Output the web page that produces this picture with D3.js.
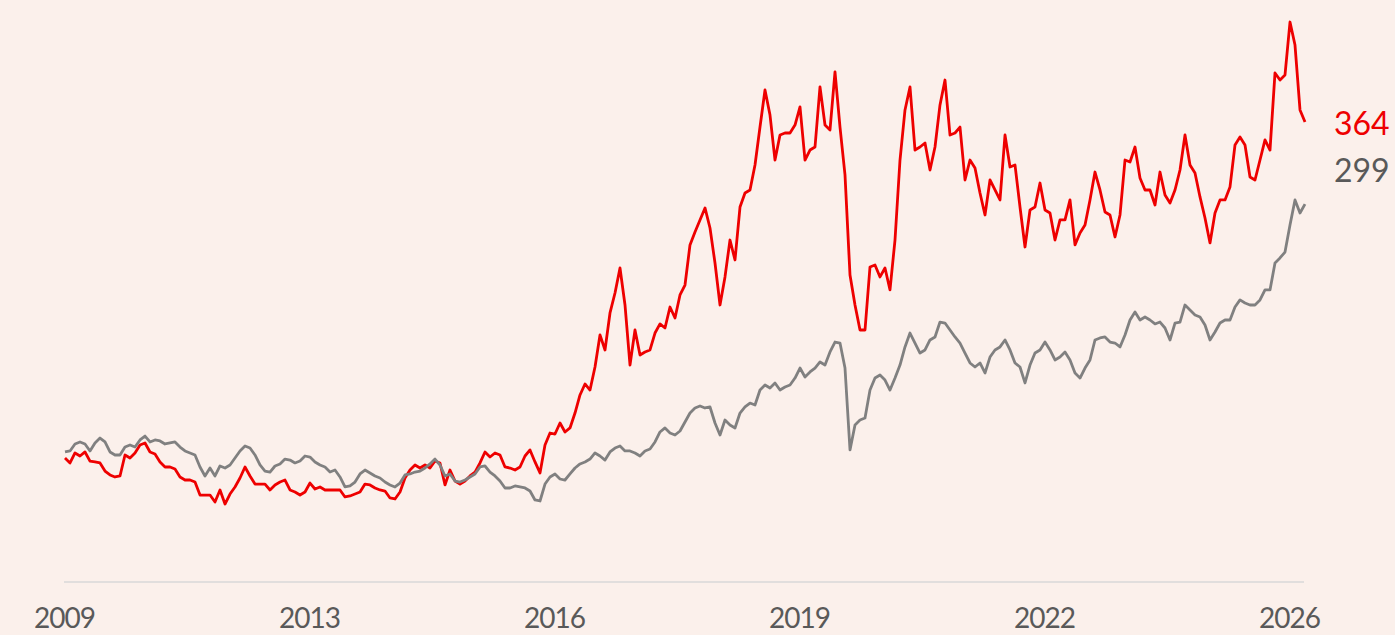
<!DOCTYPE html>
<html><head><meta charset="utf-8">
<script src="https://cdn.jsdelivr.net/npm/d3@7"></script>
<style>html,body{margin:0;padding:0;background:#FBF0EB;} svg{display:block}</style>
</head><body><svg id="chart" width="1395" height="635"></svg>
<script>
// Rebased index values (start = 100), sampled evenly along the category axis
const redValues = [
98.1,94.2,102.1,99.7,102.9,95.7,95.0,94.2,87.8,84.7,
83.1,83.9,100.5,98.1,102.1,108.4,110.0,102.9,101.3,95.0,
91.0,91.0,89.4,83.1,80.7,80.7,79.1,68.8,68.8,68.8,
63.3,72.8,61.7,69.6,75.2,82.3,91.0,83.9,77.5,77.5,
77.5,72.8,76.8,
79.1,80.7,72.8,71.2,68.8,71.2,78.3,
73.6,75.2,72.8,72.8,72.8,72.8,67.3,68.1,69.6,71.2,
77.5,76.8,74.4,72.8,72.0,66.5,65.7,71.2,82.3,88.6,
92.6,90.2,92.6,90.2,95.7,94.2,76.8,88.6,79.9,77.5,
79.9,83.9,87.0,94.2,102.9,
98.9,102.1,100.5,91.0,90.2,
88.6,91.0,99.7,104.5,95.0,86.3,108.4,117.9,117.1,125.8,
118.7,121.9,133.7,148.0,156.7,151.9,170.1,195.5,183.6,212.9,
228.7,248.5,219.2,171.7,199.4,179.6,182.0,183.6,197.0,204.2,
201.0,217.6,208.9,227.1,235.0,266.7,277.0,
286.5,296.0,280.1,
252.4,219.2,241.4,270.6,254.8,296.7,307.8,310.2,330.0,360.0,
389.3,369.5,333.9,353.7,355.3,355.3,361.6,375.9,333.9,341.8,
344.2,391.7,361.6,357.7,403.6,360.0,322.1,242.9,219.2,199.4,
199.4,249.3,250.8,241.4,248.5,231.1,270.6,333.9,
373.5,391.7,
341.8,344.2,347.4,326.0,344.2,377.5,397.2,353.7,355.3,360.0,
318.1,333.9,327.6,307.8,290.4,318.1,310.2,302.3,353.7,328.4,
330.0,296.7,265.1,294.4,296.7,315.7,294.4,292.0,270.6,286.5,
286.5,302.3,266.7,276.2,282.5,302.3,324.4,310.2,292.8,
290.4,
273.0,290.4,333.9,332.3,344.2,319.7,310.2,310.2,298.3,324.4,
306.2,299.9,310.2,326.0,353.7,330.0,323.6,304.7,288.0,268.3,
292.0,302.3,302.3,312.6,345.8,352.1,345.8,320.5,318.1,333.9,
349.8,341.8,402.8,397.2,401.2,443.1,424.9,373.5,364
];
const grayValues = [
102.9,103.7,109.2,110.8,109.2,103.7,110.0,113.9,110.8,102.9,
100.5,100.5,106.8,108.4,106.8,112.4,115.5,110.8,112.4,111.6,
109.2,110.0,110.8,106.8,103.7,102.1,100.5,91.0,83.9,90.2,
83.9,91.8,90.2,92.6,98.1,103.7,107.6,106.0,100.5,92.6,
87.8,87.0,91.8,
93.4,97.3,96.5,94.2,95.7,99.7,98.9,
95.0,92.6,91.0,87.0,88.6,83.1,75.2,76.0,79.1,85.5,
88.6,86.3,83.9,82.3,79.1,76.8,75.2,78.3,84.7,85.5,
87.0,87.8,90.2,93.4,97.3,92.6,83.9,85.5,79.9,79.1,
80.7,83.1,85.5,91.0,91.8,
87.0,83.9,79.9,74.4,74.4,
76.0,75.2,74.4,72.0,64.9,64.1,77.5,83.1,85.5,81.5,
80.7,85.5,90.2,93.4,95.0,97.3,102.1,99.7,96.5,102.9,
106.0,107.6,103.7,103.7,102.1,99.7,103.7,105.2,110.8,118.7,
121.9,117.9,116.3,119.5,126.6,133.7,137.7,
139.3,137.7,138.5,
125.8,116.3,128.2,124.2,121.9,133.7,138.5,141.6,140.1,151.9,
155.9,153.5,157.5,151.9,154.3,155.9,161.4,169.3,162.2,166.2,
169.3,174.1,171.7,182.0,189.9,189.1,169.3,104.5,124.2,128.2,
129.8,151.9,161.4,163.8,159.8,151.9,161.4,171.7,
186.0,197.0,
189.1,181.2,183.6,191.5,193.9,205.7,204.9,199.4,193.9,189.1,
181.2,173.3,170.1,173.3,165.4,178.0,183.6,186.0,191.5,183.6,
173.3,170.1,157.5,171.7,181.2,183.6,189.9,183.6,175.7,178.0,
182.0,175.7,165.4,161.4,169.3,175.7,191.5,193.1,193.9,
189.9,
189.1,186.0,195.5,207.3,213.7,207.3,209.7,207.3,204.2,205.7,
201.0,191.5,204.9,205.7,219.2,215.2,211.3,209.7,203.4,191.5,
197.8,204.9,207.3,207.3,217.6,223.2,220.8,219.2,219.2,223.2,
231.1,231.1,252.4,256.4,261.1,282.5,302.3,292.0,299
];
const tickLabels = ["2009","2013","2016","2019","2022","2026"];
const tickIndex = [0,49,98,147,196,245];
const redLast = "364";
const grayLast = "299";

const RED = "#EE0000", GRAY = "#808080", TEXT = "#595959";
const svg = d3.select("#chart");
const x = d3.scaleLinear().domain([0, redValues.length - 1]).range([65, 1305]);
const y = d3.scaleLinear().domain([0, 450]).range([582, 13.3]);

// baseline
svg.append("line")
  .attr("x1", x(0) - 1).attr("x2", x(redValues.length - 1) - 1)
  .attr("y1", y(0)).attr("y2", y(0))
  .attr("stroke", "#D9D9D9").attr("stroke-width", 1.5);

const line = d3.line().x((d, i) => x(i)).y(d => y(d));

svg.append("path").datum(redValues)
  .attr("d", line).attr("fill", "none")
  .attr("stroke", RED).attr("stroke-width", 2.8).attr("stroke-linejoin", "round");
svg.append("path").datum(grayValues)
  .attr("d", line).attr("fill", "none")
  .attr("stroke", GRAY).attr("stroke-width", 2.8).attr("stroke-linejoin", "round");

// x axis
const axis = d3.axisBottom(x).tickValues(tickIndex)
  .tickFormat((d, i) => tickLabels[i]).tickSize(0);
const gx = svg.append("g").attr("transform", `translate(-1,${y(0)})`).call(axis);
gx.select(".domain").remove();
gx.selectAll("text")
  .attr("y", 46).attr("dy", 0)
  .attr("fill", TEXT)
  .style("font-family", "Lato, 'Open Sans', sans-serif")
  .style("font-size", "28px")
  .style("letter-spacing", "-1px");

// end labels
const lastI = redValues.length - 1;
svg.append("text").text(redLast)
  .attr("x", 1334).attr("y", y(redValues[lastI]) + 13)
  .attr("fill", RED)
  .style("font-family", "Lato, 'Open Sans', sans-serif").style("font-size", "32px");
svg.append("text").text(grayLast)
  .attr("x", 1334).attr("y", y(grayValues[lastI]) - 22)
  .attr("fill", TEXT)
  .style("font-family", "Lato, 'Open Sans', sans-serif").style("font-size", "32px");
</script>
</body></html>
